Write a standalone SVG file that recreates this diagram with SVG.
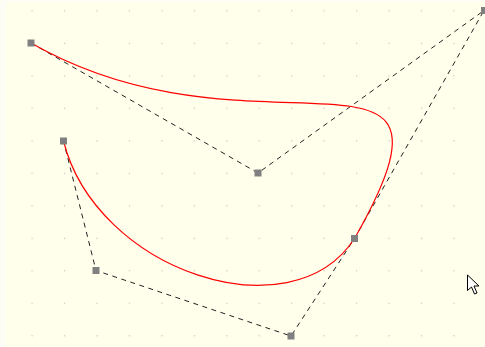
<svg xmlns="http://www.w3.org/2000/svg" width="485" height="347" viewBox="0 0 485 347">
  <defs>
    <pattern id="grid" patternUnits="userSpaceOnUse" x="31.5" y="10.2" width="32.45" height="32.5">
      <rect x="0" y="0" width="1.2" height="1.2" fill="#c4c4bc"/>
    </pattern>
  </defs>
  <style>
    .poly { fill: none; stroke: #222; stroke-width: 1; stroke-dasharray: 5 4.5; }
    .curve { fill: none; stroke: #ff0000; stroke-width: 1.2; }
    .pt { fill: #808080; }
  </style>
  <rect x="0" y="0" width="485" height="347" fill="#fdfdf6"/>
  <rect x="6" y="2" width="479" height="345" fill="#ffffec"/>
  <rect x="6" y="2" width="479" height="345" fill="url(#grid)"/>

  <g id="connectors">
    <path class="poly" d="M31,43 L258,173 L484,10.5 L354.5,238.5 L291,336 L96,270.5 L63.5,141"/>
    <path class="curve" d="M31,43 C258,173 484,10.5 354.5,238.5 C291,336 96,270.5 63.5,141"/>
  </g>

  <g id="p1"><rect class="pt" x="27.5" y="39.5" width="7" height="7"/></g>
  <g id="p2"><rect class="pt" x="254.5" y="169.5" width="7" height="7"/></g>
  <g id="p3"><rect class="pt" x="481" y="7" width="7" height="7"/></g>
  <g id="p4"><rect class="pt" x="60" y="137.5" width="7" height="7"/></g>
  <g id="p5"><rect class="pt" x="92.5" y="267" width="7" height="7"/></g>
  <g id="p6"><rect class="pt" x="287.5" y="332.5" width="7" height="7"/></g>
  <g id="p7"><rect class="pt" x="351" y="235" width="7" height="7"/></g>

  <g id="cursor" transform="translate(467.5,275)">
    <path d="M0,0 L0,15.5 L4,12 L7,19 L9.5,18 L6.5,11 L11.5,11 Z" fill="#ffffff" stroke="#000" stroke-width="1" stroke-linejoin="miter"/>
  </g>
</svg>
